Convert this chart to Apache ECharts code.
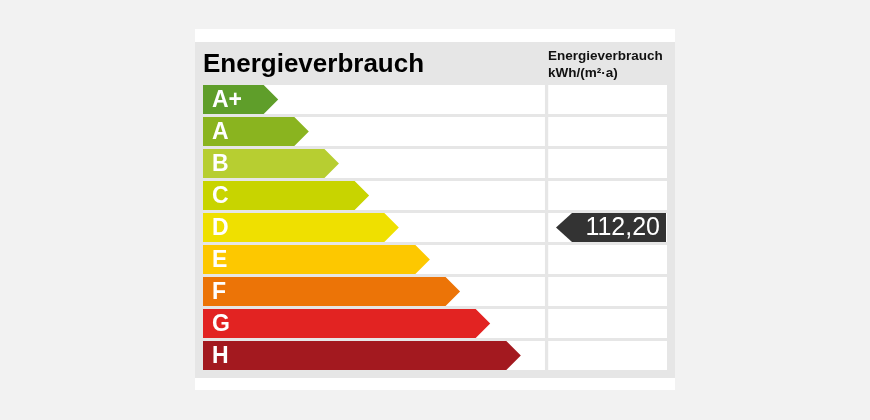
<!DOCTYPE html>
<html><head><meta charset="utf-8">
<script src="https://cdn.jsdelivr.net/npm/echarts@6/dist/echarts.min.js"></script>
<style>html,body{margin:0;padding:0;background:#f2f2f2}#c{width:870px;height:420px}</style>
</head><body><div id="c"></div>
<script>
// ---- data ----
const classes = ['A+', 'A', 'B', 'C', 'D', 'E', 'F', 'G', 'H'];
// bar length of each class arrow (tip), in % of the scale width
const barLengths = [16.2, 22.8, 29.3, 35.8, 42.2, 48.9, 55.4, 61.9, 68.5];
const classColors = ['#5f9e2a', '#8ab41f', '#b7ce31', '#c8d400', '#efe000', '#fdc800', '#ec7407', '#e22322', '#a3191f'];
const consumptionValue = 112.20;
const consumptionClass = 'D';
const titleText = 'Energieverbrauch';
const columnTitle = ['Energieverbrauch', 'kWh/(m²·a)'];

// ---- layout ----
const FONT = '"Liberation Sans", Arial, sans-serif';
const LEFT_COL_END = 73.7;   // % of axis
const RIGHT_COL_START = 74.4;
const GAP = 3;

const chart = echarts.init(document.getElementById('c'), null, {renderer: 'canvas'});

const barData = classes.map((c, i) => [barLengths[i], c]);

function renderBar(params, api) {
  const cat = api.value(1);
  const len = api.value(0);
  const center = api.coord([0, cat]);
  const band = api.size([0, 1])[1];
  const h = band - GAP;
  const top = center[1] - h / 2;
  const bottom = top + h;
  const x0 = center[0];
  const xLeftEnd = api.coord([LEFT_COL_END, cat])[0];
  const xRightStart = api.coord([RIGHT_COL_START, cat])[0];
  const xRightEnd = api.coord([100, cat])[0];
  const tip = api.coord([len, cat])[0];
  const depth = h / 2;
  const idx = params.dataIndex;
  return {
    type: 'group',
    children: [
      {type: 'rect', shape: {x: x0, y: top, width: xLeftEnd - x0, height: h}, style: {fill: '#ffffff'}},
      {type: 'rect', shape: {x: xRightStart, y: top, width: xRightEnd - xRightStart, height: h}, style: {fill: '#ffffff'}},
      {type: 'polygon', shape: {points: [[x0, top], [tip - depth, top], [tip, center[1]], [tip - depth, bottom], [x0, bottom]]},
        style: {fill: classColors[idx]}},
      {type: 'text', x: x0 + 9, y: center[1] + 1,
        style: {text: classes[idx], fill: '#ffffff', font: 'bold 23px ' + FONT,
          align: 'left', verticalAlign: 'middle', textAlign: 'left', textVerticalAlign: 'middle'}}
    ]
  };
}

function renderMarker(params, api) {
  const cat = api.value(1);
  const center = api.coord([100, cat]);
  const band = api.size([0, 1])[1];
  const h = band - GAP;
  const top = center[1] - h / 2;
  const bottom = top + h;
  const right = center[0] - 1;
  const left = right - 110;
  const depth = 16;
  const label = api.value(0).toFixed(2).replace('.', ',');
  return {
    type: 'group',
    children: [
      {type: 'polygon', shape: {points: [[left, center[1]], [left + depth, top], [right, top], [right, bottom], [left + depth, bottom]]},
        style: {fill: '#333333'}},
      {type: 'text', x: right - 6, y: center[1] + 1,
        style: {text: label, fill: '#ffffff', font: '25px ' + FONT,
          align: 'right', verticalAlign: 'middle', textAlign: 'right', textVerticalAlign: 'middle'}}
    ]
  };
}

chart.setOption({
  backgroundColor: '#f2f2f2',
  animation: false,
  grid: {left: 203, right: 203, top: 83.5, bottom: 48.5},
  xAxis: {type: 'value', min: 0, max: 100, show: false},
  yAxis: {type: 'category', data: classes, inverse: true, show: false},
  graphic: [
    {type: 'rect', z: 0, shape: {x: 195, y: 29, width: 480, height: 361}, style: {fill: '#ffffff'}},
    {type: 'rect', z: 0, shape: {x: 195, y: 42, width: 480, height: 336}, style: {fill: '#e6e6e6'}},
    {type: 'text', z: 1, x: 203, y: 65, style: {text: titleText, fill: '#000000', font: 'bold 26px ' + FONT, verticalAlign: 'middle'}},
    {type: 'text', z: 1, x: 548, y: 56, style: {text: columnTitle[0], fill: '#111111', font: 'bold 13.5px ' + FONT, verticalAlign: 'middle'}},
    {type: 'text', z: 1, x: 548, y: 73, style: {text: columnTitle[1], fill: '#111111', font: 'bold 13.5px ' + FONT, verticalAlign: 'middle'}}
  ],
  series: [
    {type: 'custom', z: 5, renderItem: renderBar, data: barData, encode: {x: 0, y: 1}},
    {type: 'custom', z: 6, renderItem: renderMarker, data: [[consumptionValue, consumptionClass]], encode: {x: -1, y: 1}}
  ]
});
</script></body></html>
